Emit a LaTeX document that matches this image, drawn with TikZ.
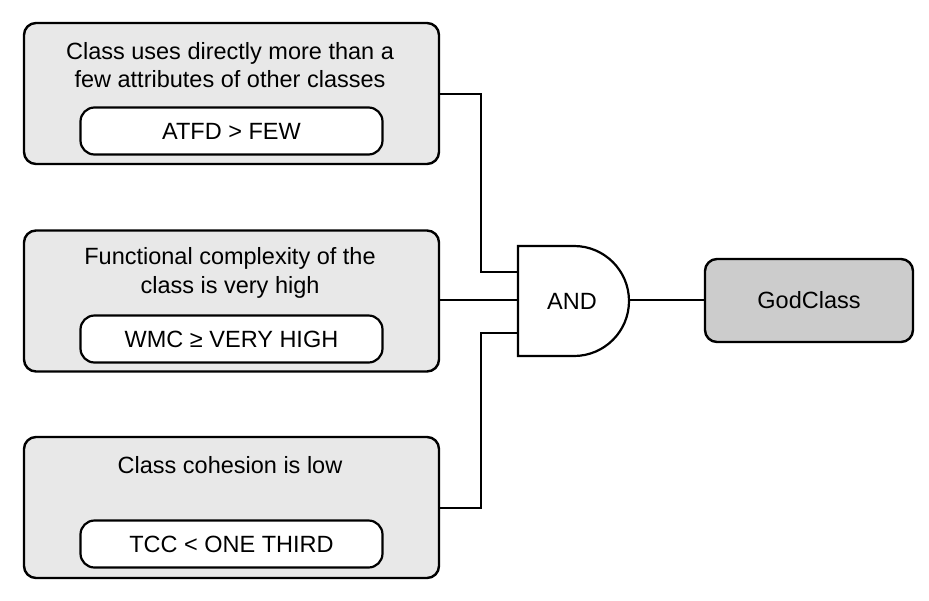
\documentclass[tikz,border=0pt]{standalone}
\usepackage{fontspec}
\setmainfont{Liberation Sans}
\definecolor{outergrey}{HTML}{E8E8E8}
\definecolor{godgrey}{HTML}{CCCCCC}
\begin{document}
\begin{tikzpicture}[x=1pt,y=-1pt,
  every node/.style={font=\fontsize{23.5}{28.5}\selectfont},
  outerbox/.style={draw, line width=2.4pt, rounded corners=12pt, fill=outergrey,
    minimum width=415pt, minimum height=141pt, inner sep=0pt},
  innerbox/.style={draw, line width=2.2pt, rounded corners=14pt, fill=white,
    minimum width=302pt, minimum height=47pt, inner sep=0pt},
  godbox/.style={draw, line width=2.4pt, rounded corners=12pt, fill=godgrey,
    minimum width=208pt, minimum height=83pt, inner sep=0pt},
  label/.style={align=center, inner sep=0pt},
  wire/.style={line width=2pt},
  gateshape/.style={draw, line width=2.2pt, fill=white, line join=miter}
]
\useasboundingbox (0,0) rectangle (929,600);

% condition boxes
\node[outerbox] (c1) at (231.5,93.5) {};
\node[label] (t1) at (230,65) {Class uses directly more than a\\few attributes of other classes};
\node[innerbox] (e1) at (231.5,131) {ATFD > FEW};

\node[outerbox] (c2) at (231.5,301) {};
\node[label] (t2) at (230,273) {Functional complexity of the\\class is very high};
\node[innerbox] (e2) at (231.5,339) {WMC ≥ VERY HIGH};

\node[outerbox] (c3) at (231.5,507.5) {};
\node[label] (t3) at (230,465) {Class cohesion is low};
\node[innerbox] (e3) at (231.5,544) {TCC < ONE THIRD};

% AND gate
\draw[gateshape] (518,246) -- (574,246) arc(-90:90:55) -- (518,356) -- cycle;
\node[label] (gate) at (572,301) {AND};
\coordinate (in1) at (518,272);
\coordinate (in2) at (518,300);
\coordinate (in3) at (518,333);
\coordinate (gout) at (629,300);
\coordinate (bus) at (481,300);

% result
\node[godbox] (god) at (809,300.5) {GodClass};

% connectors
\draw[wire] (c1.east) -- (c1.east -| bus) |- (in1);
\draw[wire] (c2.east |- in2) -- (in2);
\draw[wire] (c3.east) -- (c3.east -| bus) |- (in3);
\draw[wire] (gout) -- (god.west |- gout);
\end{tikzpicture}
\end{document}
